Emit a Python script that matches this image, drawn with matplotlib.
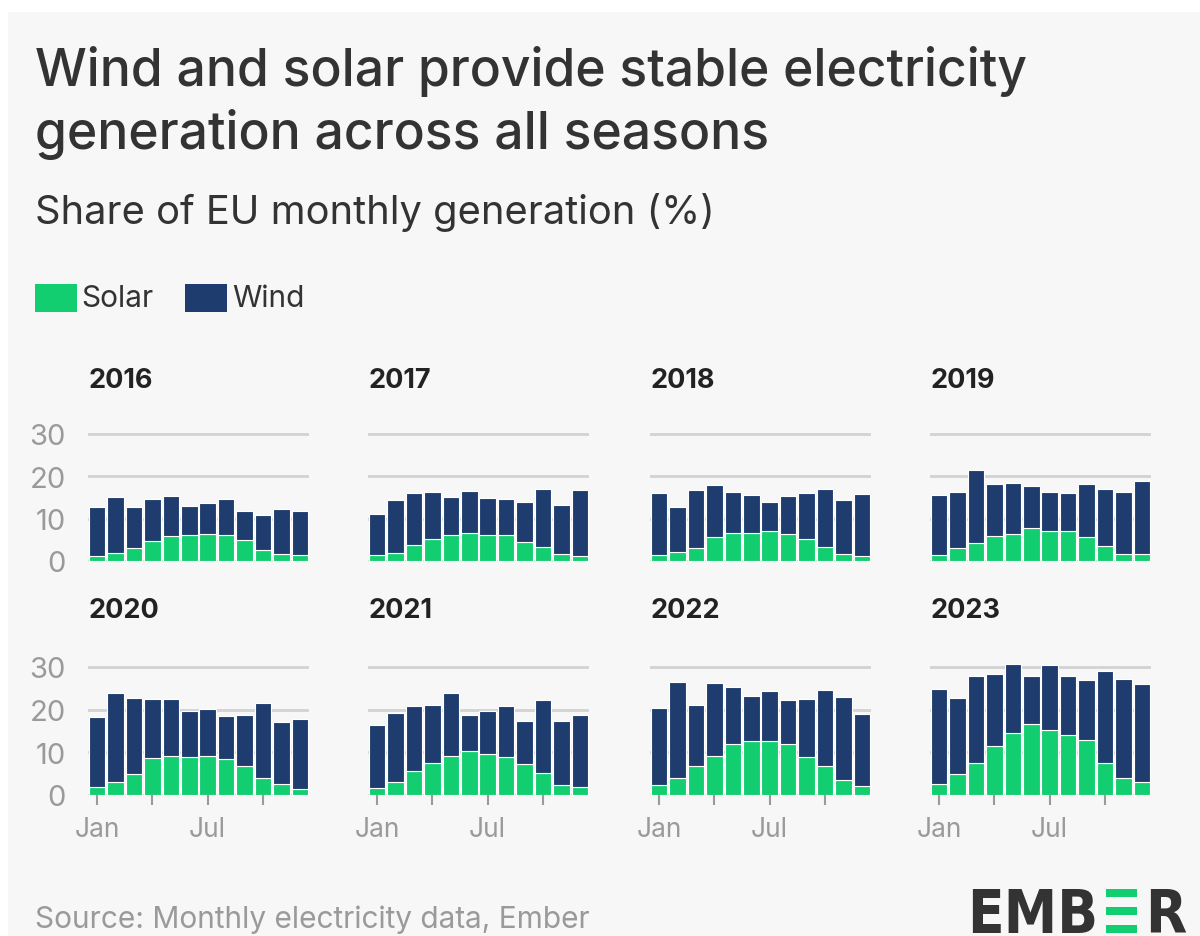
import matplotlib.pyplot as plt
import numpy as np

plt.rcParams['font.family'] = ['Inter', 'DejaVu Sans']

# Data, share of EU monthly generation (%)
years = [2016, 2017, 2018, 2019, 2020, 2021, 2022, 2023]
months = ['Jan', 'Feb', 'Mar', 'Apr', 'May', 'Jun', 'Jul', 'Aug', 'Sep', 'Oct', 'Nov', 'Dec']

solar_2016 = [1.2, 1.9, 3.1, 4.7, 5.9, 6.2, 6.3, 6.2, 4.9, 2.6, 1.6, 1.3]
wind_2016 = [11.6, 13.3, 9.7, 9.9, 9.5, 6.9, 7.4, 8.4, 6.8, 8.3, 10.8, 10.4]
solar_2017 = [1.3, 2.0, 3.8, 5.2, 6.2, 6.6, 6.2, 6.1, 4.5, 3.3, 1.6, 1.2]
wind_2017 = [9.8, 12.5, 12.3, 11.2, 9.0, 9.9, 8.6, 8.6, 9.4, 13.7, 11.7, 15.6]
solar_2018 = [1.3, 2.2, 3.0, 5.6, 6.7, 6.7, 7.2, 6.4, 5.3, 3.4, 1.6, 1.2]
wind_2018 = [14.8, 10.6, 13.7, 12.3, 9.7, 8.8, 6.7, 8.9, 10.7, 13.6, 12.7, 14.6]
solar_2019 = [1.4, 3.0, 4.2, 5.8, 6.3, 7.8, 7.1, 7.0, 5.6, 3.5, 1.7, 1.6]
wind_2019 = [14.3, 13.4, 17.3, 12.5, 12.2, 9.9, 9.1, 9.1, 12.6, 13.4, 14.7, 17.4]
solar_2020 = [1.9, 3.0, 5.0, 8.6, 9.1, 8.9, 9.1, 8.4, 6.9, 3.9, 2.5, 1.5]
wind_2020 = [16.4, 21.0, 17.7, 14.0, 13.3, 10.8, 11.0, 10.1, 11.8, 17.6, 14.7, 16.3]
solar_2021 = [1.6, 3.1, 5.6, 7.5, 9.1, 10.3, 9.5, 8.8, 7.3, 5.2, 2.4, 1.8]
wind_2021 = [14.8, 16.2, 15.2, 13.7, 14.9, 8.4, 10.2, 12.0, 10.1, 17.0, 14.9, 16.9]
solar_2022 = [2.4, 4.1, 6.9, 9.1, 12.0, 12.6, 12.6, 12.0, 8.9, 6.7, 3.6, 2.0]
wind_2022 = [17.9, 22.5, 14.1, 17.1, 13.3, 10.5, 11.7, 10.2, 13.5, 18.0, 19.4, 17.1]
solar_2023 = [2.6, 4.9, 7.4, 11.5, 14.5, 16.6, 15.3, 14.1, 12.9, 7.6, 4.1, 3.0]
wind_2023 = [22.3, 17.9, 20.6, 16.8, 16.1, 11.3, 15.2, 13.7, 14.0, 21.5, 23.2, 23.1]

solar = [solar_2016, solar_2017, solar_2018, solar_2019,
         solar_2020, solar_2021, solar_2022, solar_2023]
wind = [wind_2016, wind_2017, wind_2018, wind_2019,
        wind_2020, wind_2021, wind_2022, wind_2023]

GREEN = '#13ce70'
NAVY = '#1e3d6e'
BG = '#f7f7f7'
DARK = '#333333'
GREY = '#9a9a9a'

W, H = 1200, 937
fig = plt.figure(figsize=(12, 9.37), dpi=100, facecolor='white')


def fy(py):
    # pixel row from the top -> figure fraction
    return 1 - py / H


# light grey card behind everything (thin white border top / left)
fig.patches.append(plt.Rectangle((8 / W, 0), 1, fy(13), transform=fig.transFigure,
                                 facecolor=BG, edgecolor='none', zorder=-10))

fig.text(35 / W, fy(86), 'Wind and solar provide stable electricity',
         fontsize=37.2, fontweight='medium', color=DARK, va='baseline', ha='left')
fig.text(35 / W, fy(149), 'generation across all seasons',
         fontsize=37.2, fontweight='medium', color=DARK, va='baseline', ha='left')
fig.text(35 / W, fy(224), 'Share of EU monthly generation (%)',
         fontsize=28.7, color=DARK, va='baseline', ha='left')

# legend
fig.patches.append(plt.Rectangle((35 / W, fy(313)), 42 / W, 28 / H, transform=fig.transFigure,
                                 facecolor=GREEN, edgecolor='none'))
fig.text(81 / W, fy(307), 'Solar', fontsize=21.5, color=DARK, va='baseline')
fig.patches.append(plt.Rectangle((185 / W, fy(313)), 42 / W, 28 / H, transform=fig.transFigure,
                                 facecolor=NAVY, edgecolor='none'))
fig.text(232 / W, fy(307), 'Wind', fontsize=21.5, color=DARK, va='baseline')

col_x = [88, 368, 650, 930]
panel_w = 221
row_base = [562, 796]
row_title = [381, 611]
px_per_unit = [127 / 30, 128 / 30]
ytop = 32

x = np.arange(12)
for i, yr in enumerate(years):
    r, c = divmod(i, 4)
    h = ytop * px_per_unit[r]
    ax = fig.add_axes([col_x[c] / W, fy(row_base[r]), panel_w / W, h / H])
    ax.set_facecolor('none')
    for gy in [0, 10, 20, 30]:
        ax.axhline(gy, color='#d3d3d3', lw=2, zorder=0)
    ax.bar(x, solar[i], width=0.9, color=GREEN, edgecolor='white', linewidth=0.8, zorder=2)
    ax.bar(x, wind[i], bottom=solar[i], width=0.9, color=NAVY, edgecolor='white',
           linewidth=0.8, zorder=2)
    ax.set_xlim(-0.5, 11.5)
    ax.set_ylim(0, ytop)
    for s in ax.spines.values():
        s.set_visible(False)
    ax.set_yticks([0, 10, 20, 30])
    if c == 0:
        ax.set_yticklabels(['0', '10', '20', '30'], fontsize=21, color=GREY)
    else:
        ax.set_yticklabels([])
    ax.tick_params(axis='y', length=0, pad=16)
    if r == 1:
        ax.set_xticks([0, 3, 6, 9])
        ax.set_xticklabels(['Jan', '', 'Jul', ''], fontsize=19, color=GREY)
        ax.tick_params(axis='x', length=7, width=1.5, color=GREY, pad=8)
    else:
        ax.set_xticks([])
    fig.text(col_x[c] / W, fy(row_title[r]), str(yr), fontsize=19.5, fontweight='bold',
             color='#222222', ha='left', va='center')

fig.text(35 / W, fy(928), 'Source: Monthly electricity data, Ember',
         fontsize=21.5, color=GREY, va='baseline', ha='left')

# EMBER logo: dark condensed letters with a green three-bar "E"
logo_font = dict(family='DejaVu Sans', stretch='condensed', weight='bold', size=43,
                 color=DARK, va='baseline')
fig.text(967 / W, fy(933), 'EMB', ha='left', **logo_font)
for top in [890, 908, 926]:
    fig.patches.append(plt.Rectangle((1106 / W, fy(top + 7.5)), 31 / W, 7.5 / H,
                                     transform=fig.transFigure,
                                     facecolor=GREEN, edgecolor='none'))
fig.text(1145 / W, fy(933), 'R', ha='left', **logo_font)

fig.savefig('out.png', dpi=100, facecolor=fig.get_facecolor())
